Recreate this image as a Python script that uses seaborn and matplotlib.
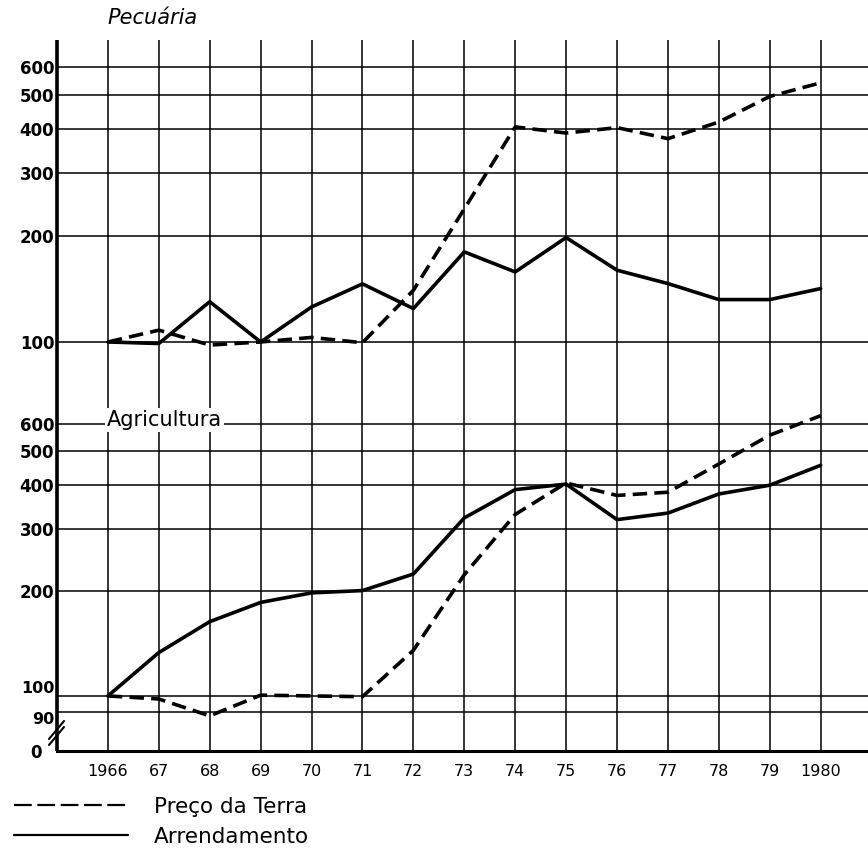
import matplotlib
matplotlib.use("Agg")
import matplotlib.pyplot as plt
from matplotlib.lines import Line2D
from matplotlib.ticker import NullLocator
import pandas as pd
import seaborn as sns

# ---------------- data ----------------
years = list(range(1966, 1981))
year_labels = ["1966", "67", "68", "69", "70", "71", "72", "73", "74",
               "75", "76", "77", "78", "79", "1980"]
series_names = ["Preço da Terra", "Arrendamento"]

pec_preco = [100, 108, 98, 100, 103, 99.5, 140, 238, 406, 390, 404, 376, 419, 495, 541]
pec_arrend = [100, 99, 130, 100, 125.6, 146, 124.3, 179.8, 157.8, 197.4, 159.6, 146.3, 131.8, 131.8, 141.6]
agr_preco = [100, 98, 87.7, 100.5, 100, 99.5, 135, 222, 330, 406, 374, 382, 460, 556, 632]
agr_arrend = [100, 133, 163, 185, 197, 200, 223, 322.5, 388.6, 403, 319, 333, 377.6, 400, 456]

pec_ticks = [100, 200, 300, 400, 500, 600]
agr_ticks = [90, 100, 200, 300, 400, 500, 600]
panel_titles = ["Pecuária", "Agricultura"]


def long_df(preco, arrend):
    return pd.DataFrame({
        "ano": years * 2,
        "indice": list(preco) + list(arrend),
        "serie": [series_names[0]] * len(years) + [series_names[1]] * len(years),
    })


sns.set_theme(style="white")
plt.rcParams["font.family"] = ["DejaVu Sans"]
plt.rcParams["text.color"] = "black"
plt.rcParams["xtick.color"] = "black"
plt.rcParams["ytick.color"] = "black"
plt.rcParams["axes.labelcolor"] = "black"

W, H = 868, 863
fig = plt.figure(figsize=(W / 100, H / 100), dpi=100)
left_px, top_px, split_px, bottom_px = 57, 40, 368, 751
ax_top = fig.add_axes([left_px / W, 1 - split_px / H, 1 - left_px / W, (split_px - top_px) / H])
ax_bot = fig.add_axes([left_px / W, 1 - bottom_px / H, 1 - left_px / W, (bottom_px - split_px) / H])

dash_map = {series_names[0]: (4, 2), series_names[1]: ""}

panels = [
    (ax_top, long_df(pec_preco, pec_arrend), (84.4, 715), pec_ticks),
    (ax_bot, long_df(agr_preco, agr_arrend), (69.6, 865), agr_ticks),
]

for ax, df, ylim, yt in panels:
    sns.lineplot(data=df, x="ano", y="indice", style="serie", style_order=series_names,
                 dashes=dash_map, color="black", linewidth=2.6, legend=False, ax=ax,
                 zorder=5)
    ax.set_yscale("log")
    ax.set_xlim(1965, 1980.93)
    ax.set_ylim(*ylim)
    ax.set_xticks(years)
    ax.yaxis.set_minor_locator(NullLocator())
    ax.xaxis.set_minor_locator(NullLocator())
    ax.set_xlabel("")
    ax.set_ylabel("")
    ax.set_axisbelow(True)
    ax.grid(True, which="major", color="black", linewidth=1.1)
    ax.tick_params(axis="both", which="both", length=0, colors="black")
    for s in ("top", "right", "bottom"):
        ax.spines[s].set_visible(False)
    ax.spines["left"].set_visible(True)
    ax.spines["left"].set_color("black")
    ax.spines["left"].set_linewidth(2.6)
    ax.spines["left"].set_capstyle("butt")
    ax.set_facecolor("white")

# y ticks
ax_top.set_yticks(pec_ticks)
ax_top.set_yticklabels([str(t) for t in pec_ticks], fontsize=12, fontweight="bold")
ax_top.tick_params(axis="y", pad=2)
ax_top.tick_params(axis="x", labelbottom=False)

ax_bot.set_yticks([69.6] + agr_ticks)
ax_bot.set_yticklabels(["0  "] + [str(t) for t in agr_ticks], fontsize=12, fontweight="bold")
ax_bot.tick_params(axis="y", pad=2)
for lab in ax_bot.get_yticklabels():
    if lab.get_text() == "90":
        lab.set_va("top")
        lab.set_fontsize(11.5)
    elif lab.get_text() == "100":
        lab.set_va("bottom")
        lab.set_fontsize(11.5)
ax_bot.set_xticklabels(year_labels, fontsize=11.5)
ax_bot.tick_params(axis="x", pad=9)
ax_bot.spines["bottom"].set_visible(True)
ax_bot.spines["bottom"].set_color("black")
ax_bot.spines["bottom"].set_linewidth(2.2)

# panel titles
fig.text(107 / W, 1 - 18 / H, panel_titles[0], ha="left", va="center",
         fontsize=15, style="italic", color="black")
ax_bot.text(1965.98, 10 ** 2.788, panel_titles[1], ha="left", va="center",
            fontsize=15, color="black", zorder=6,
            bbox=dict(facecolor="white", edgecolor="none", pad=1.5))

# axis break marks
aw, ah = W - left_px, bottom_px - split_px
for dy in (-3, 3):
    ax_bot.plot([-8 / aw, 7 / aw], [(18 + dy - 9) / ah, (18 + dy + 9) / ah],
                transform=ax_bot.transAxes, clip_on=False, color="black", lw=1.5, zorder=7)

# legend
handles = [Line2D([], [], color="black", lw=1.6, dashes=(8, 2.5)),
           Line2D([], [], color="black", lw=1.6)]
fig.legend(handles, series_names, loc="upper left", bbox_to_anchor=(14 / W, 1 - 797 / H),
           frameon=False, fontsize=15.5, handlelength=5.3, handletextpad=1.2,
           labelspacing=0.45, borderpad=0, borderaxespad=0)

fig.savefig("out.png", dpi=100, facecolor="white")
